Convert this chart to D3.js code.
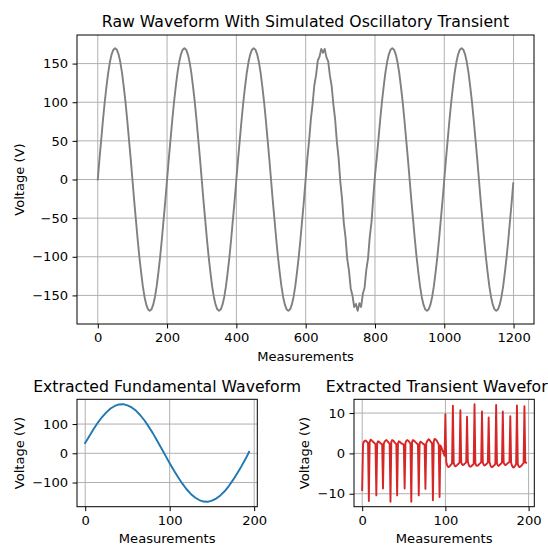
<!DOCTYPE html>
<html>
<head>
<meta charset="utf-8">
<script src="https://cdn.jsdelivr.net/npm/d3@7"></script>
<style>
  body { margin: 0; background: #fff; }
  svg { display: block; font-family: "DejaVu Sans", sans-serif; }
</style>
</head>
<body>
<div id="chart"></div>
<script>
// ---- data ----
// raw waveform, one value every 5 measurements (0..1195), plus the last sample
const rawStep = 5;
const rawVoltage = [
  0, 27, 52, 77, 100, 120, 138, 152, 162, 168, 170, 168, 162, 152, 138, 120, 100, 77, 52, 27,
  0, -27, -52, -77, -100, -120, -138, -152, -162, -168, -170, -168, -162, -152, -138, -120, -100, -77, -52, -27,
  0, 27, 52, 77, 100, 120, 138, 152, 162, 168, 170, 168, 162, 152, 138, 120, 100, 77, 52, 27,
  0, -27, -52, -77, -100, -120, -138, -152, -162, -168, -170, -168, -162, -152, -138, -120, -100, -77, -52, -27,
  0, 27, 52, 77, 100, 120, 138, 152, 162, 168, 170, 168, 162, 152, 138, 120, 100, 77, 52, 27,
  0, -27, -52, -77, -100, -120, -138, -152, -162, -168, -170, -168, -162, -152, -138, -120, -100, -77, -52, -27,
  // transient cycle
  1, 28, 51, 78, 98, 122, 135, 154, 159, 169, 164, 169, 158, 153, 134, 121, 97, 78, 49, 28,
  -3, -25, -56, -75, -103, -118, -141, -150, -165, -161, -170, -160, -165, -148, -140, -117, -102, -74, -55, -24,
  5, 27, 52, 77, 100, 120, 138, 152, 162, 168, 170, 168, 162, 152, 138, 120, 100, 77, 52, 27,
  0, -27, -52, -77, -100, -120, -138, -152, -162, -168, -170, -168, -162, -152, -138, -120, -100, -77, -52, -27,
  0, 27, 52, 77, 100, 120, 138, 152, 162, 168, 170, 168, 162, 152, 138, 120, 100, 77, 52, 27,
  0, -27, -52, -77, -100, -120, -138, -152, -162, -168, -170, -168, -162, -152, -138, -120, -100, -77, -52, -27
];
const rawLast = [1199, -5];

// extracted fundamental
const fundIndex = [0, 5, 10, 15, 20, 25, 30, 35, 40, 45, 50, 55, 60, 65, 70, 75, 80, 85, 90, 95,
  100, 105, 110, 115, 120, 125, 130, 135, 140, 145, 150, 155, 160, 165, 170, 175, 180, 185, 190, 194];
const fundVoltage = [35, 59, 83, 105, 124, 140, 153, 162, 167, 168, 164, 157, 146, 131, 113, 92, 69, 44, 18, -8,
  -34, -59, -82, -104, -123, -139, -151, -160, -165, -166, -162, -155, -144, -130, -112, -91, -68, -44, -18, 5];

// extracted transient, one value per measurement (0..197)
const transientVoltage = [
  -9.1, 2.3, 2.9, 3.1, 3.2, 3.0, 2.8, 2.6,
  -11.8, 2.8, 3.4, 3.3, 3.1, 2.9, 2.7, 2.5, 2.3,
  -10.4, 2.5, 3.0, 2.9, 2.7, 2.5, 2.4, 2.2,
  -8.7, 2.4, 2.9, 3.2, 3.3, 3.1, 2.9, 2.6, 2.4,
  -12.0, 2.9, 3.3, 3.2, 3.0, 2.7, 2.5, 2.3,
  -10.4, 2.5, 3.0, 2.9, 2.7, 2.5, 2.4, 2.3, 2.2,
  -8.7, 2.6, 3.1, 3.3, 3.2, 3.0, 2.7, 2.5,
  -12.0, 2.9, 3.3, 3.2, 3.0, 2.8, 2.6, 2.4, 2.2,
  -10.4, 2.4, 2.9, 2.8, 2.6, 2.4, 2.3, 2.2,
  -8.8, 2.5, 3.0, 3.3, 3.5, 3.3, 3.0, 2.7, 2.5,
  -11.6, 3.0, 3.6, 3.5, 3.3, 3.0, 2.6, 2.2,
  -10.8, 2.0, 1.6, 1.0, 0.5, 0.0, -0.6,
  9.7, -2.0, -2.9, -3.3, -3.4, -3.2, -3.0, -2.7, -2.5,
  11.8, -2.3, -3.0, -3.2, -3.1, -2.9, -2.7, -2.5, -2.3,
  10.7, -2.2, -2.7, -2.9, -2.8, -2.6, -2.4, -2.2,
  9.1, -2.0, -2.8, -3.2, -3.3, -3.2, -3.0, -2.8, -2.6,
  12.2, -2.4, -3.0, -3.1, -3.0, -2.8, -2.6, -2.4, -2.2,
  10.4, -2.3, -2.8, -3.0, -2.9, -2.7, -2.5, -2.3,
  8.9, -2.1, -2.9, -3.3, -3.4, -3.3, -3.1, -2.9, -2.6,
  12.0, -2.5, -3.0, -3.1, -2.9, -2.7, -2.5, -2.3,
  10.4, -2.2, -2.7, -2.9, -2.8, -2.6, -2.4, -2.3, -2.1,
  9.2, -2.3, -3.0, -3.4, -3.5, -3.3, -3.0, -2.7,
  11.9, -2.6, -3.2, -3.4, -3.3, -3.1, -2.9, -2.6, -2.4,
  11.7, -2.2, -2.3
];

const rawXTicks = [0, 200, 400, 600, 800, 1000, 1200];
const rawYTicks = [-150, -100, -50, 0, 50, 100, 150];
const smallXTicks = [0, 100, 200];
const fundYTicks = [-100, 0, 100];
const transientYTicks = [-10, 0, 10];

// ---- drawing ----
const W = 548, H = 545;
const tickFont = 13.1, titleFont = 15.7;
const tickLen = 4.45, tickPad = 4.45;

const svg = d3.select("#chart").append("svg")
    .attr("width", W)
    .attr("height", H);

function padded(values) {
    const [lo, hi] = d3.extent(values);
    const m = (hi - lo) * 0.05;
    return [lo - m, hi + m];
}

let clipId = 0;

function panel(box, pts, color, xTicks, yTicks, title) {
    const x = d3.scaleLinear(padded(pts.map(d => d[0])), [box.x, box.x + box.w]);
    const y = d3.scaleLinear(padded(pts.map(d => d[1])), [box.y + box.h, box.y]);
    const g = svg.append("g");

    // grid
    g.append("g").selectAll("line").data(xTicks).join("line")
        .attr("x1", d => x(d)).attr("x2", d => x(d))
        .attr("y1", box.y).attr("y2", box.y + box.h)
        .attr("stroke", "#b0b0b0").attr("stroke-width", 1);
    g.append("g").selectAll("line").data(yTicks).join("line")
        .attr("y1", d => y(d)).attr("y2", d => y(d))
        .attr("x1", box.x).attr("x2", box.x + box.w)
        .attr("stroke", "#b0b0b0").attr("stroke-width", 1);

    const id = "clip" + (clipId++);
    svg.append("clipPath").attr("id", id).append("rect")
        .attr("x", box.x).attr("y", box.y).attr("width", box.w).attr("height", box.h);

    g.append("path")
        .datum(pts)
        .attr("clip-path", `url(#${id})`)
        .attr("fill", "none")
        .attr("stroke", color)
        .attr("stroke-width", 1.9)
        .attr("stroke-linejoin", "round")
        .attr("stroke-linecap", "square")
        .attr("d", d3.line(d => x(d[0]), d => y(d[1])));

    const fmt = d3.format("d");
    const xAxis = g.append("g")
        .attr("transform", `translate(0,${box.y + box.h})`)
        .call(d3.axisBottom(x).tickValues(xTicks).tickFormat(fmt)
            .tickSize(tickLen).tickPadding(tickPad).tickSizeOuter(0));
    const yAxis = g.append("g")
        .attr("transform", `translate(${box.x},0)`)
        .call(d3.axisLeft(y).tickValues(yTicks).tickFormat(fmt)
            .tickSize(tickLen).tickPadding(tickPad).tickSizeOuter(0));
    [xAxis, yAxis].forEach(a => {
        a.select(".domain").remove();
        a.attr("font-family", null).attr("font-size", tickFont);
        a.selectAll("line").attr("stroke", "#000").attr("stroke-width", 1);
        a.selectAll("text").attr("fill", "#000");
    });

    // frame
    g.append("rect")
        .attr("x", box.x).attr("y", box.y).attr("width", box.w).attr("height", box.h)
        .attr("fill", "none").attr("stroke", "#000").attr("stroke-width", 1);

    // labels
    g.append("text")
        .attr("x", box.x + box.w / 2)
        .attr("y", box.y + box.h + 36.6)
        .attr("text-anchor", "middle")
        .attr("font-size", tickFont)
        .text("Measurements");

    let widest = 0;
    yAxis.selectAll("text").each(function() {
        widest = Math.max(widest, this.getComputedTextLength());
    });
    const lx = box.x - tickLen - tickPad - widest - 5.1 - 3;
    g.append("text")
        .attr("transform", `translate(${lx},${box.y + box.h / 2}) rotate(-90)`)
        .attr("text-anchor", "middle")
        .attr("font-size", tickFont)
        .text("Voltage (V)");

    g.append("text")
        .attr("x", box.x + box.w / 2)
        .attr("y", box.y - 7.6)
        .attr("text-anchor", "middle")
        .attr("font-size", titleFont)
        .text(title);
}

const rawPts = rawVoltage.map((v, i) => [i * rawStep, v]).concat([rawLast]);
const fundPts = fundIndex.map((t, i) => [t, fundVoltage[i]]);
const transientPts = transientVoltage.map((v, i) => [i, v]);

panel({x: 77, y: 35, w: 457, h: 289}, rawPts, "gray", rawXTicks, rawYTicks,
    "Raw Waveform With Simulated Oscillatory Transient");
panel({x: 77, y: 399.3, w: 180.3, h: 107.4}, fundPts, "#1f77b4", smallXTicks, fundYTicks,
    "Extracted Fundamental Waveform");
panel({x: 354, y: 399.3, w: 180.3, h: 107.4}, transientPts, "#d62728", smallXTicks, transientYTicks,
    "Extracted Transient Waveform");
</script>
</body>
</html>
